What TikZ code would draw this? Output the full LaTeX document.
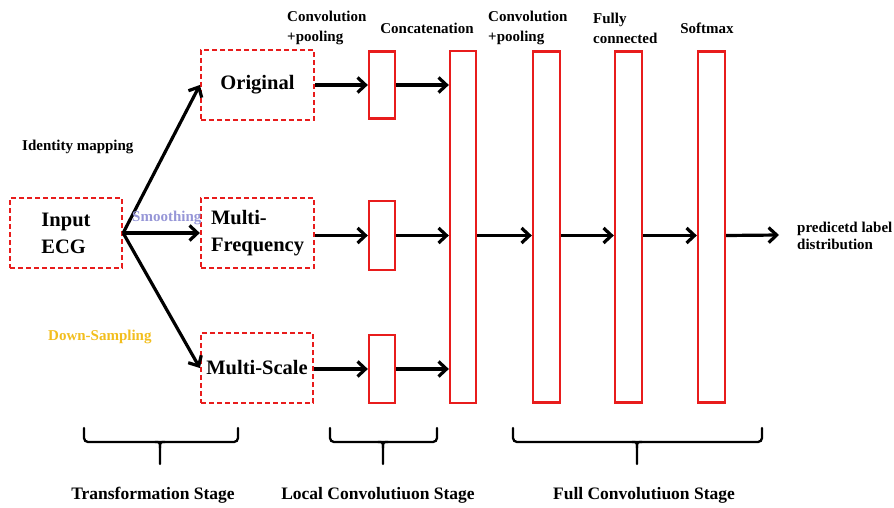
\documentclass[tikz,border=0pt]{standalone}
\usepackage{fontspec}
\setmainfont{Liberation Serif}
\usetikzlibrary{arrows.meta}
\definecolor{boxred}{RGB}{232,28,28}
\definecolor{smoothcol}{RGB}{150,150,215}
\definecolor{downcol}{RGB}{242,190,30}
% flattened curly brace: left x, middle x, right x
\newcommand\stagebrace[3]{%
  \draw[bracestyle, rounded corners=4pt] (#1,428) -- (#1,442) -- (#3,442) -- (#3,428);
  \draw[bracestyle] (#2-5,442) .. controls (#2,442) .. (#2,448) -- (#2,464);
  \draw[bracestyle] (#2+5,442) .. controls (#2,442) .. (#2,448);
}
\begin{document}
\begin{tikzpicture}[x=1pt,y=-1pt,
  tbox/.style={draw=boxred, line width=2.3pt, dash pattern=on 5pt off 3pt,
    inner sep=0pt, font=\fontsize{20.5}{27}\selectfont\bfseries, align=left},
  layer/.style={draw=boxred, line width=2.3pt, inner sep=0pt, minimum width=26pt},
  flow/.style={line width=3.2pt, -{Straight Barb[length=8pt,width=15pt]}},
  toplabel/.style={font=\fontsize{15}{20}\selectfont\bfseries, inner sep=0pt, align=left},
  sidelabel/.style={font=\fontsize{15}{17}\selectfont\bfseries, inner sep=0pt, align=left},
  stagelabel/.style={font=\fontsize{17.5}{20}\selectfont\bfseries, inner sep=0pt},
  bracestyle/.style={line width=2.3pt, line cap=round}]
\useasboundingbox (0,0) rectangle (894,508);

% transformation boxes
\node[tbox, minimum width=112pt, minimum height=70pt] (in) at (66,233) {Input\\ECG};
\node[tbox, minimum width=113pt, minimum height=70pt] (orig) at (257.5,85) {Original};
\node[tbox, minimum width=113pt, minimum height=70pt] (mf) at (257.5,233) {Multi-\\Frequency};
\node[tbox, minimum width=112pt, minimum height=70pt] (ms) at (257,368) {Multi-Scale};

% local convolution layers
\node[layer, minimum height=67pt] (c1) at (382,85) {};
\node[layer, minimum height=69pt] (c2) at (382,235.5) {};
\node[layer, minimum height=68pt] (c3) at (382,369) {};

% full convolution layers
\node[layer, minimum height=352pt] (cat) at (463,227) {};
\node[layer, minimum width=27pt, minimum height=351pt] (cv) at (546.5,227) {};
\node[layer, minimum width=27pt, minimum height=351pt] (fc) at (628.5,227) {};
\node[layer, minimum width=27pt, minimum height=351pt] (sm) at (711.5,227) {};
\coordinate (out) at (779,235);

% transformation arrows
\draw[flow] (in.east) -- (orig.west);
\draw[flow] (in.east) -- (mf.west);
\draw[flow] (in.east) -- (ms.west);

% local rows
\draw[flow] (orig.east) -- (orig.east -| c1.west);
\draw[flow] (c1.east) -- (c1.east -| cat.west);
\draw[flow] (mf.east |- c2.east) -- (c2.west);
\draw[flow] (c2.east) -- (c2.east -| cat.west);
\draw[flow] (ms.east |- c3.east) -- (c3.west);
\draw[flow] (c3.east) -- (c3.east -| cat.west);

% full stage
\draw[flow] (cat.east |- c2.east) -- (cv.west |- c2.east);
\draw[flow] (cv.east |- c2.east) -- (fc.west |- c2.east);
\draw[flow] (fc.east |- c2.east) -- (sm.west |- c2.east);
\draw[flow] (sm.east |- c2.east) -- (out);

% captions
\node[toplabel, anchor=west] (lconv) at (287,28) {Convolution\\+pooling};
\node[toplabel] (lcat) at (427,28) {Concatenation};
\node[toplabel, anchor=west] (lconv2) at (488,28) {Convolution\\+pooling};
\node[toplabel, anchor=west] (lfc) at (593,28) {Fully\\connected};
\node[toplabel] (lsm) at (707,28) {Softmax};
\node[sidelabel, anchor=west] (lid) at (22,147) {Identity mapping};
\node[sidelabel, anchor=west, text=smoothcol] (lsmooth) at (132,218) {Smoothing};
\node[sidelabel, anchor=west, text=downcol] (ldown) at (48,337) {Down-Sampling};
\node[sidelabel, anchor=west] (lout) at (797,235.5) {predicetd label\\distribution};

% stage braces
\stagebrace{84}{160}{238}
\stagebrace{330}{383}{437}
\stagebrace{513}{637}{762}
\node[stagelabel] (s1) at (153,495) {Transformation Stage};
\node[stagelabel] (s2) at (378,495) {Local Convolutiuon Stage};
\node[stagelabel] (s3) at (644,495) {Full Convolutiuon Stage};
\end{tikzpicture}
\end{document}
